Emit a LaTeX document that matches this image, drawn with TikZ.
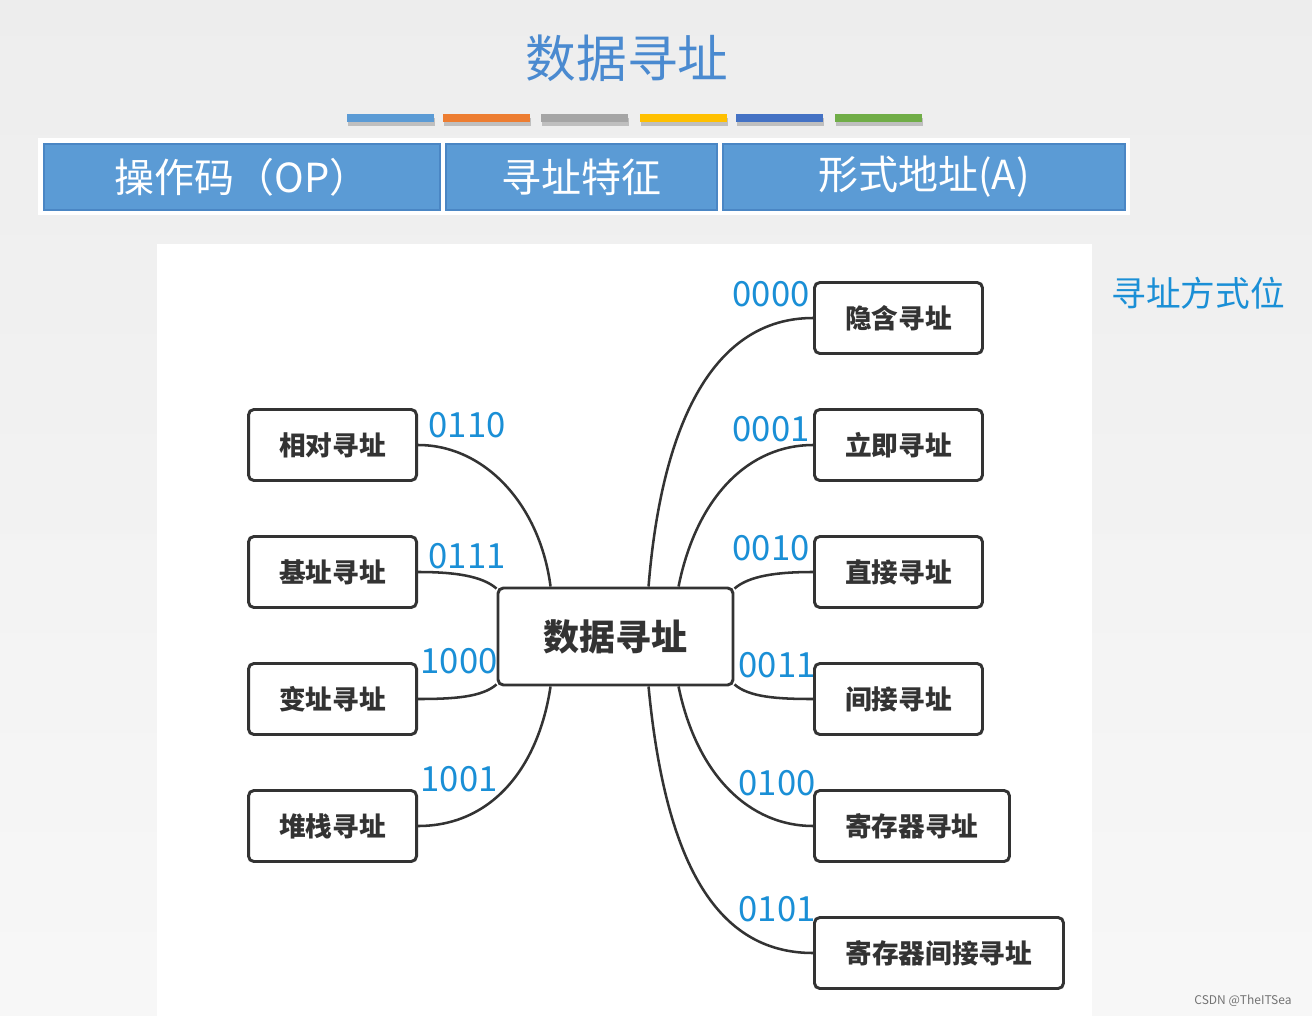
\documentclass[tikz,border=0pt]{standalone}
\usepackage{fontspec}
\usepackage{xcolor}
\usepackage{tikz}
\usetikzlibrary{calc,positioning}
\setmainfont{Noto Sans CJK SC}
\newfontfamily\cjk{Noto Sans CJK SC}

\definecolor{titleblue}{HTML}{4A8AD0}
\definecolor{fieldblue}{HTML}{5B9BD5}
\definecolor{fieldedge}{HTML}{4A86C4}
\definecolor{codeblue}{HTML}{1A8FD6}
\definecolor{linegray}{HTML}{333333}
\definecolor{barorange}{HTML}{ED7D31}
\definecolor{bargray}{HTML}{A5A5A5}
\definecolor{bargold}{HTML}{FFC000}
\definecolor{bardark}{HTML}{4472C4}
\definecolor{bargreen}{HTML}{70AD47}

\tikzset{
  mode/.style={draw=linegray, line width=2.2pt, rounded corners=4pt, fill=white,
    minimum width=126pt, minimum height=53.25pt, inner sep=0pt,
    text=black!80, font=\cjk\bfseries\fontsize{20}{24}\selectfont},
  hub/.style={mode, minimum width=176.25pt, minimum height=72.75pt,
    font=\cjk\bfseries\fontsize{27}{32}\selectfont},
  field/.style={fill=fieldblue, draw=fieldedge, line width=0.8pt, inner sep=0pt,
    minimum height=49.5pt, text=white, font=\cjk\fontsize{30}{36}\selectfont},
  code/.style={text=codeblue, inner sep=0pt, font=\cjk\fontsize{26}{30}\selectfont},
  link/.style={draw=linegray, line width=1.9pt},
  bar/.style={line width=6pt}
}

\begin{document}
\begin{tikzpicture}[x=0.75pt, y=-0.75pt]
    \useasboundingbox (0,0) rectangle (1312,1016);
    \shade[top color=black!7, bottom color=black!3] (0,0) rectangle (1312,1016);
    \fill[white] (157,244) rectangle (1092,1016);

    \node[text=titleblue, font=\cjk\fontsize{38}{44}\selectfont] (title) at (627,58) {数据寻址};

    \foreach \xa/\col in {347/fieldblue, 443/barorange, 541/bargray, 640/bargold, 736/bardark, 835/bargreen} {
      \draw[bar, black!25] (\xa+1,122) -- (\xa+88,122);
      \draw[bar, \col] (\xa,118) -- (\xa+87,118);
    }

    \fill[white] (38,138) rectangle (1130,215);
    \node[field, minimum width=297pt] (op) at (242,177) {操作码（OP）};
    \node[field, minimum width=203.25pt] (feature) at (581.5,177) {寻址特征};
    \node[field, minimum width=301.5pt] (addr) at (924,177) {形式地址(A)};

    \node[text=codeblue, font=\cjk\fontsize{26}{30}\selectfont] (bits) at (1198,293) {寻址方式位};

    \node[hub] (data) at (615.5,636.5) {数据寻址};

    \node[mode, anchor=east] (rel) at (418,445) {相对寻址};
    \node[mode, anchor=east] (base) at (418,572) {基址寻址};
    \node[mode, anchor=east] (index) at (418,699) {变址寻址};
    \node[mode, anchor=east] (stack) at (418,826) {堆栈寻址};

    \node[mode, anchor=west] (implied) at (813,318) {隐含寻址};
    \node[mode, anchor=west] (immed) at (813,445) {立即寻址};
    \node[mode, anchor=west] (direct) at (813,572) {直接寻址};
    \node[mode, anchor=west] (indirect) at (813,699) {间接寻址};
    \node[mode, anchor=west, minimum width=146.25pt] (reg) at (813,826) {寄存器寻址};
    \node[mode, anchor=west, minimum width=186.75pt] (regind) at (813,953) {寄存器间接寻址};

    \coordinate (tl) at ($(data.north west)+(54,0)$);
    \coordinate (tm) at ($(data.north west)+(152,0)$);
    \coordinate (tr) at ($(data.north west)+(182,0)$);
    \coordinate (bl) at ($(data.south west)+(54,0)$);
    \coordinate (bm) at ($(data.south west)+(152,0)$);
    \coordinate (br) at ($(data.south west)+(182,0)$);

    \draw[link] (tl) .. controls (540,505) and (485,445) .. (rel.east);
    \draw[link] ($(data.north west)+(0,2)$) .. controls (482,576) and (455,572) .. (base.east);
    \draw[link] ($(data.south west)+(0,-2)$) .. controls (482,697) and (455,699) .. (index.east);
    \draw[link] (bl) .. controls (538,770) and (490,826) .. (stack.east);
    \draw[link] (tm) .. controls (662,420) and (715,318) .. (implied.west);
    \draw[link] (tr) .. controls (697,495) and (750,445) .. (immed.west);
    \draw[link] ($(data.north east)+(0,2)$) .. controls (749,576) and (776,572) .. (direct.west);
    \draw[link] ($(data.south east)+(0,-2)$) .. controls (749,697) and (776,699) .. (indirect.west);
    \draw[link] (br) .. controls (697,776) and (750,826) .. (reg.west);
    \draw[link] (bm) .. controls (665,860) and (715,953) .. (regind.west);

    \node[code] (c0000) at (771,294) {0000};
    \node[code] (c0001) at (771,429) {0001};
    \node[code] (c0010) at (771,548) {0010};
    \node[code] (c0011) at (777,665) {0011};
    \node[code] (c0100) at (777,783) {0100};
    \node[code] (c0101) at (777,909) {0101};
    \node[code] (c0110) at (467,425) {0110};
    \node[code] (c0111) at (467,556) {0111};
    \node[code] (c1000) at (459,661) {1000};
    \node[code] (c1001) at (459,779) {1001};

    \node[text=black!55, font=\fontsize{9}{10}\selectfont] (mark) at (1243,1001) {CSDN @TheITSea};
\end{tikzpicture}
\end{document}
